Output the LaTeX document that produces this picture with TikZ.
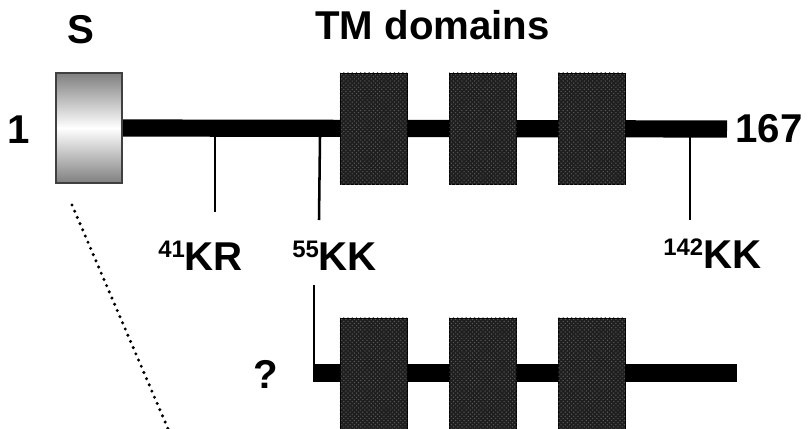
\documentclass[tikz,border=0pt]{standalone}
\usepackage{fontspec}
\setmainfont{Liberation Sans}
\usetikzlibrary{positioning,patterns,backgrounds}

\newcommand\motif[2]{\raisebox{9pt}{\fontsize{17}{17}\selectfont #1}#2}

\begin{document}
\begin{tikzpicture}[x=0.025cm,y=-0.025cm,
  sigbox/.style={draw=black!75, line width=0.8pt, inner sep=0pt,
    minimum width=1.65cm, minimum height=2.75cm,
    top color=black!50, bottom color=black!50, middle color=white},
  tmbox/.style={draw=black, line width=0.5pt, inner sep=0pt, fill=black!88,
    minimum width=1.68cm, minimum height=2.78cm,
    postaction={pattern=crosshatch dots, pattern color=black!65}},
  backbone/.style={line width=0.43cm},
  sitetick/.style={line width=1.8pt},
  dotline/.style={line width=2.4pt, line cap=round, dash pattern=on 0pt off 4.8pt},
  lbl/.style={inner sep=0pt, font=\fontsize{28.6}{34}\selectfont\bfseries}
]
\useasboundingbox (0,0) rectangle (812,429);

% full length protein
\node[sigbox] (sig) at (89,128) {};
\node[tmbox] (tma) at (373.5,128.5) {};
\node[tmbox] (tmb) at (483,128.5) {};
\node[tmbox] (tmc) at (592,128.5) {};
\coordinate (cend) at (727,129);
\begin{scope}[on background layer]
  \draw[backbone] (sig.east) -- (cend);
\end{scope}

\node[lbl, anchor=base] (nterm) at (19,143) {1};
\node[lbl, anchor=base west] (cterm) at (735,142) {167};
\node[lbl, anchor=base] (slbl) at (81,43) {S};
\node[lbl, anchor=base west] (tmlbl) at (315,39) {TM domains};

% lysine motifs
\coordinate (k41) at (215,137);
\coordinate (k41b) at (215,212);
\coordinate (k55) at (320,137);
\coordinate (k55b) at (319,220);
\coordinate (k142) at (690,137);
\coordinate (k142b) at (690,220);
\draw[sitetick] (k41) -- (k41b);
\draw[sitetick] (k55) -- (k55b);
\draw[sitetick] (k142) -- (k142b);
\node[lbl, anchor=base west] (m41) at (158,270) {\motif{41}{KR}};
\node[lbl, anchor=base west] (m55) at (292,270) {\motif{55}{KK}};
\node[lbl, anchor=base west] (m142) at (663,268) {\motif{142}{KK}};

% truncated form
\node[tmbox] (tmd) at (373.5,373.5) {};
\node[tmbox] (tme) at (483,373.5) {};
\node[tmbox] (tmf) at (592,373.5) {};
\coordinate (qtop) at (314,285);
\coordinate (qstart) at (313,373);
\coordinate (qend) at (737,373);
\begin{scope}[on background layer]
  \draw[backbone] (qstart) -- (qend);
  \draw[sitetick] (qtop) -- (314,370);
\end{scope}
\node[lbl] (qmark) at (266,374) {?};

% signal peptide cleavage
\coordinate (da) at (72,205);
\coordinate (db) at (169,431);
\draw[dotline] (da) -- (db);
\end{tikzpicture}
\end{document}
